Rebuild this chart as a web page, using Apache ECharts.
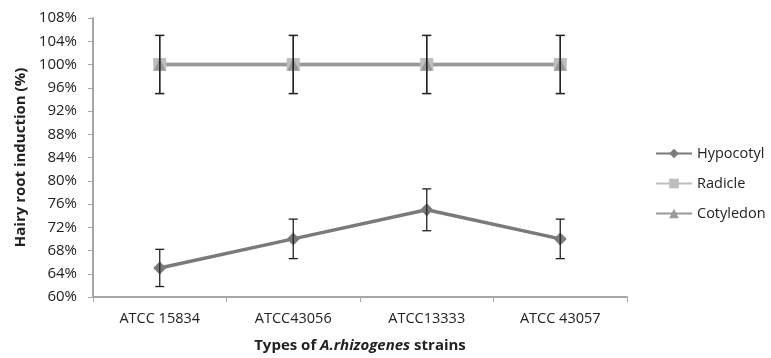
<!DOCTYPE html>
<html><head><meta charset="utf-8">
<script src="https://cdn.jsdelivr.net/npm/echarts@6/dist/echarts.min.js"></script>
<style>html,body{margin:0;padding:0;background:#fff}#c{width:771px;height:358px}</style>
</head><body><div id="c"></div>
<script>
var categories = ['ATCC 15834', 'ATCC43056', 'ATCC13333', 'ATCC 43057'];
var hypocotyl = [65, 70, 75, 70];
var hypocotylErr = [3.2, 3.4, 3.6, 3.4];
var radicle = [100, 100, 100, 100];
var radicleErr = [5, 5, 5, 5];
var cotyledon = [100, 100, 100, 100];
var cotyledonErr = [5, 5, 5, 5];

function errData(vals, errs) {
  return vals.map(function (v, i) { return [i, v - errs[i], v + errs[i]]; });
}
function errSeries(vals, errs) {
  return {
    type: 'custom', z: 10, silent: true,
    data: errData(vals, errs),
    renderItem: function (params, api) {
      var lo = api.coord([api.value(0), api.value(1)]);
      var hi = api.coord([api.value(0), api.value(2)]);
      var hw = 4.5;
      var st = { stroke: '#222', lineWidth: 1.3 };
      return { type: 'group', children: [
        { type: 'line', shape: { x1: lo[0], y1: lo[1], x2: hi[0], y2: hi[1] }, style: st },
        { type: 'line', shape: { x1: lo[0] - hw, y1: lo[1], x2: lo[0] + hw, y2: lo[1] }, style: st },
        { type: 'line', shape: { x1: hi[0] - hw, y1: hi[1], x2: hi[0] + hw, y2: hi[1] }, style: st }
      ] };
    }
  };
}
var font = '"Open Sans", "Liberation Sans", sans-serif';
var chart = echarts.init(document.getElementById('c'));
chart.setOption({
  animation: false,
  textStyle: { fontFamily: font },
  grid: { left: 93, right: 144, top: 18, bottom: 61 },
  legend: {
    orient: 'vertical', left: 650, top: 141, itemGap: 15,
    itemWidth: 36, itemHeight: 12,
    textStyle: { fontSize: 14.5, color: '#222', fontFamily: font },
    data: ['Hypocotyl', 'Radicle', 'Cotyledon']
  },
  xAxis: {
    type: 'category', data: categories, boundaryGap: true,
    axisLine: { lineStyle: { color: '#a6a6a6', width: 2 } },
    axisTick: { show: true, length: 5, lineStyle: { color: '#a6a6a6', width: 1 } },
    axisLabel: { color: '#222', fontSize: 14.5, margin: 14 },
    name: '{b|Types of }{bi|A.rhizogenes}{b| strains}',
    nameLocation: 'middle', nameGap: 41,
    nameTextStyle: { rich: {
      b: { fontSize: 15, fontWeight: 'bold', color: '#222', fontFamily: font },
      bi: { fontSize: 15, fontWeight: 'bold', fontStyle: 'italic', color: '#222', fontFamily: font }
    } }
  },
  yAxis: {
    type: 'value', min: 60, max: 108, interval: 4,
    axisLine: { show: true, lineStyle: { color: '#a6a6a6', width: 2 } },
    axisTick: { show: true, length: 5, lineStyle: { color: '#a6a6a6', width: 1 } },
    splitLine: { show: false },
    axisLabel: { color: '#222', fontSize: 15, margin: 16, formatter: '{value}%' },
    name: 'Hairy root induction (%)', nameLocation: 'middle', nameGap: 64,
    nameTextStyle: { fontSize: 15, fontWeight: 'bold', color: '#222' }
  },
  series: [
    { name: 'Hypocotyl', type: 'line', data: hypocotyl, symbol: 'diamond', symbolSize: 13,
      lineStyle: { color: '#7a7a7a', width: 3.5 }, itemStyle: { color: '#7a7a7a' } },
    { name: 'Radicle', type: 'line', data: radicle, symbol: 'rect', symbolSize: 13,
      lineStyle: { color: '#bdbdbd', width: 3.5 }, itemStyle: { color: '#bdbdbd' } },
    { name: 'Cotyledon', type: 'line', data: cotyledon, symbol: 'triangle', symbolSize: 12,
      lineStyle: { color: '#999999', width: 3.5 }, itemStyle: { color: '#999999' } },
    errSeries(hypocotyl, hypocotylErr),
    errSeries(radicle, radicleErr),
    errSeries(cotyledon, cotyledonErr)
  ]
});
</script></body></html>
